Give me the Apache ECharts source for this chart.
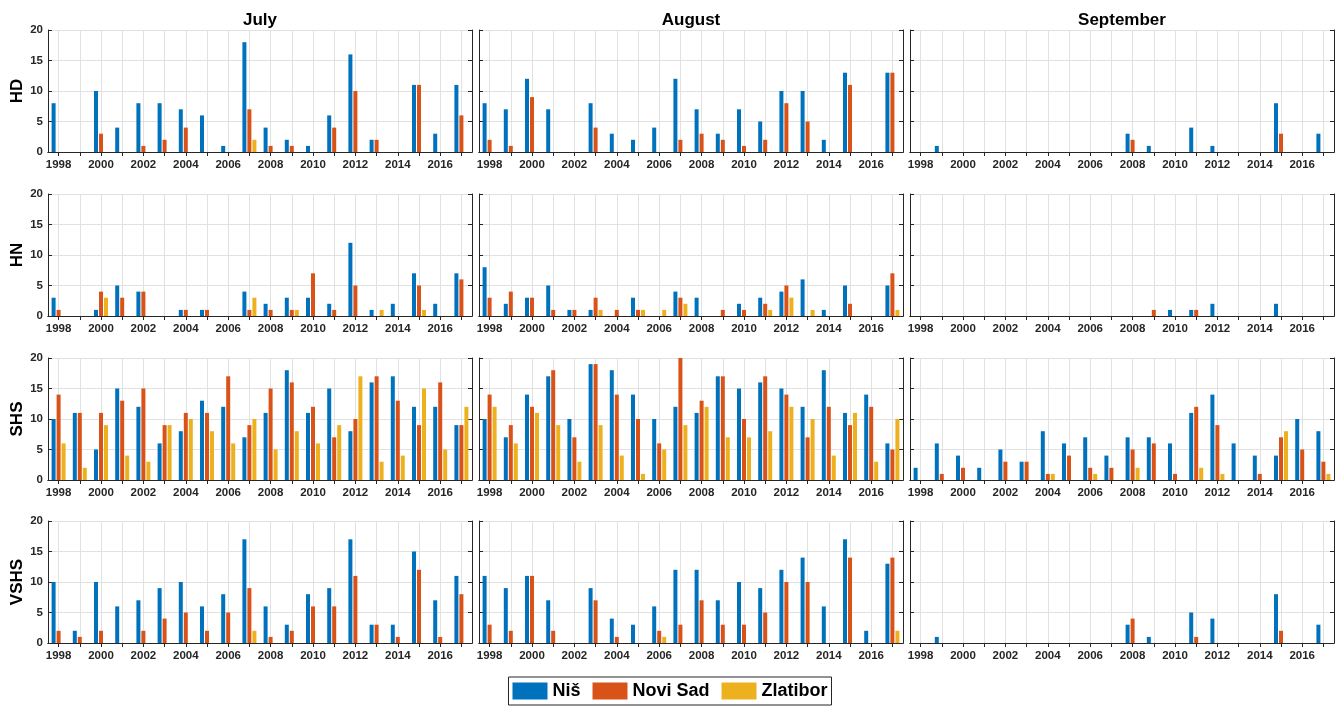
<!doctype html>
<html>
<head>
    <meta charset="utf-8">
    <title>HD / HN / SHS / VSHS</title>
    <script type="text/javascript" src="https://cdn.jsdelivr.net/npm/echarts@6/dist/echarts.min.js"></script>
    <style>
        html, body { margin: 0; padding: 0; background: #fff; }
        #container { width: 1340px; height: 707px; }
    </style>
</head>
<body>
<div id="container"></div>
<script type="text/javascript">
    // years on the x axis
    var years = ['1998', '1999', '2000', '2001', '2002', '2003', '2004', '2005', '2006', '2007',
        '2008', '2009', '2010', '2011', '2012', '2013', '2014', '2015', '2016', '2017'];
    var months = ['July', 'August', 'September'];
    var indices = ['HD', 'HN', 'SHS', 'VSHS'];
    var stations = ['Niš', 'Novi Sad', 'Zlatibor'];

    /* HD */
    var hdJulyNis      = [8, 0, 10, 4, 8, 8, 7, 6, 1, 18, 4, 2, 1, 6, 16, 2, 0, 11, 3, 11];
    var hdJulyNoviSad  = [0, 0, 3, 0, 1, 2, 4, 0, 0, 7, 1, 1, 0, 4, 10, 2, 0, 11, 0, 6];
    var hdJulyZlatibor = [0, 0, 0, 0, 0, 0, 0, 0, 0, 2, 0, 0, 0, 0, 0, 0, 0, 0, 0, 0];
    var hdAugNis       = [8, 7, 12, 7, 0, 8, 3, 2, 4, 12, 7, 3, 7, 5, 10, 10, 2, 13, 0, 13];
    var hdAugNoviSad   = [2, 1, 9, 0, 0, 4, 0, 0, 0, 2, 3, 2, 1, 2, 8, 5, 0, 11, 0, 13];
    var hdAugZlatibor  = [0, 0, 0, 0, 0, 0, 0, 0, 0, 0, 0, 0, 0, 0, 0, 0, 0, 0, 0, 0];
    var hdSepNis       = [0, 1, 0, 0, 0, 0, 0, 0, 0, 0, 3, 1, 0, 4, 1, 0, 0, 8, 0, 3];
    var hdSepNoviSad   = [0, 0, 0, 0, 0, 0, 0, 0, 0, 0, 2, 0, 0, 0, 0, 0, 0, 3, 0, 0];
    var hdSepZlatibor  = [0, 0, 0, 0, 0, 0, 0, 0, 0, 0, 0, 0, 0, 0, 0, 0, 0, 0, 0, 0];

    /* HN */
    var hnJulyNis      = [3, 0, 1, 5, 4, 0, 1, 1, 0, 4, 2, 3, 3, 2, 12, 1, 2, 7, 2, 7];
    var hnJulyNoviSad  = [1, 0, 4, 3, 4, 0, 1, 1, 0, 1, 1, 1, 7, 1, 5, 0, 0, 5, 0, 6];
    var hnJulyZlatibor = [0, 0, 3, 0, 0, 0, 0, 0, 0, 3, 0, 1, 0, 0, 0, 1, 0, 1, 0, 0];
    var hnAugNis       = [8, 2, 3, 5, 1, 1, 0, 3, 0, 4, 3, 0, 2, 3, 4, 6, 1, 5, 0, 5];
    var hnAugNoviSad   = [3, 4, 3, 1, 1, 3, 1, 1, 0, 3, 0, 1, 1, 2, 5, 0, 0, 2, 0, 7];
    var hnAugZlatibor  = [0, 0, 0, 0, 0, 1, 0, 1, 1, 2, 0, 0, 0, 1, 3, 1, 0, 0, 0, 1];
    var hnSepNis       = [0, 0, 0, 0, 0, 0, 0, 0, 0, 0, 0, 0, 1, 1, 2, 0, 0, 2, 0, 0];
    var hnSepNoviSad   = [0, 0, 0, 0, 0, 0, 0, 0, 0, 0, 0, 1, 0, 1, 0, 0, 0, 0, 0, 0];
    var hnSepZlatibor  = [0, 0, 0, 0, 0, 0, 0, 0, 0, 0, 0, 0, 0, 0, 0, 0, 0, 0, 0, 0];

    /* SHS */
    var shsJulyNis      = [10, 11, 5, 15, 12, 6, 8, 13, 12, 7, 11, 18, 11, 15, 8, 16, 17, 12, 12, 9];
    var shsJulyNoviSad  = [14, 11, 11, 13, 15, 9, 11, 11, 17, 9, 15, 16, 12, 7, 10, 17, 13, 9, 16, 9];
    var shsJulyZlatibor = [6, 2, 9, 4, 3, 9, 10, 8, 6, 10, 5, 8, 6, 9, 17, 3, 4, 15, 5, 12];
    var shsAugNis       = [10, 7, 14, 17, 10, 19, 18, 14, 10, 12, 11, 17, 15, 16, 15, 12, 18, 11, 14, 6];
    var shsAugNoviSad   = [14, 9, 12, 18, 7, 19, 14, 10, 6, 20, 13, 17, 10, 17, 14, 7, 12, 9, 12, 5];
    var shsAugZlatibor  = [12, 6, 11, 9, 3, 9, 4, 1, 5, 9, 12, 7, 7, 8, 12, 10, 4, 11, 3, 10];
    var shsSepNis       = [2, 6, 4, 2, 5, 3, 8, 6, 7, 4, 7, 7, 6, 11, 14, 6, 4, 4, 10, 8];
    var shsSepNoviSad   = [0, 1, 2, 0, 3, 3, 1, 4, 2, 2, 5, 6, 1, 12, 9, 0, 1, 7, 5, 3];
    var shsSepZlatibor  = [0, 0, 0, 0, 0, 0, 1, 0, 1, 0, 2, 0, 0, 2, 1, 0, 0, 8, 0, 1];

    /* VSHS */
    var vshsJulyNis      = [10, 2, 10, 6, 7, 9, 10, 6, 8, 17, 6, 3, 8, 9, 17, 3, 3, 15, 7, 11];
    var vshsJulyNoviSad  = [2, 1, 2, 0, 2, 4, 5, 2, 5, 9, 1, 2, 6, 6, 11, 3, 1, 12, 1, 8];
    var vshsJulyZlatibor = [0, 0, 0, 0, 0, 0, 0, 0, 0, 2, 0, 0, 0, 0, 0, 0, 0, 0, 0, 0];
    var vshsAugNis       = [11, 9, 11, 7, 0, 9, 4, 3, 6, 12, 12, 7, 10, 9, 12, 14, 6, 17, 2, 13];
    var vshsAugNoviSad   = [3, 2, 11, 2, 0, 7, 1, 0, 2, 3, 7, 3, 3, 5, 10, 10, 0, 14, 0, 14];
    var vshsAugZlatibor  = [0, 0, 0, 0, 0, 0, 0, 0, 1, 0, 0, 0, 0, 0, 0, 0, 0, 0, 0, 2];
    var vshsSepNis       = [0, 1, 0, 0, 0, 0, 0, 0, 0, 0, 3, 1, 0, 5, 4, 0, 0, 8, 0, 3];
    var vshsSepNoviSad   = [0, 0, 0, 0, 0, 0, 0, 0, 0, 0, 4, 0, 0, 1, 0, 0, 0, 2, 0, 0];
    var vshsSepZlatibor  = [0, 0, 0, 0, 0, 0, 0, 0, 0, 0, 0, 0, 0, 0, 0, 0, 0, 0, 0, 0];

    // rows = index, columns = month, each cell = [Niš, Novi Sad, Zlatibor]
    var panels = [
        [[hdJulyNis, hdJulyNoviSad, hdJulyZlatibor], [hdAugNis, hdAugNoviSad, hdAugZlatibor], [hdSepNis, hdSepNoviSad, hdSepZlatibor]],
        [[hnJulyNis, hnJulyNoviSad, hnJulyZlatibor], [hnAugNis, hnAugNoviSad, hnAugZlatibor], [hnSepNis, hnSepNoviSad, hnSepZlatibor]],
        [[shsJulyNis, shsJulyNoviSad, shsJulyZlatibor], [shsAugNis, shsAugNoviSad, shsAugZlatibor], [shsSepNis, shsSepNoviSad, shsSepZlatibor]],
        [[vshsJulyNis, vshsJulyNoviSad, vshsJulyZlatibor], [vshsAugNis, vshsAugNoviSad, vshsAugZlatibor], [vshsSepNis, vshsSepNoviSad, vshsSepZlatibor]]
    ];

    var colors = ['#0072BD', '#D95319', '#EDB120'];
    var font = "'Liberation Sans', Arial, sans-serif";
    var ink = '#262626';
    var gridColor = '#e1e1e1';

    var colLeft = [48, 479, 910];
    var colWidth = 424;
    var rowTop = [30, 194, 358, 521];
    var rowHeight = 122;

    // half-year slots for the top axis, so its ticks/grid sit on the year centres
    var halfSlots = [];
    for (var h = 0; h <= years.length * 2; h++) halfSlots.push('s' + h);
    var onYear = function (i) { return i % 2 === 1; };

    var grids = [], xAxes = [], yAxes = [], series = [];

    for (var r = 0; r < indices.length; r++) {
        for (var c = 0; c < months.length; c++) {
            var p = grids.length;
            grids.push({left: colLeft[c], top: rowTop[r], width: colWidth, height: rowHeight});

            // bottom axis with year labels
            xAxes.push({
                type: 'category', gridIndex: p, data: years, position: 'bottom',
                axisLine: {lineStyle: {color: ink, width: 1}},
                axisTick: {inside: true, alignWithLabel: true, interval: 0, length: 4, lineStyle: {color: ink}},
                axisLabel: {interval: 1, margin: 7, color: ink, fontWeight: 'bold', fontSize: 11.5, fontFamily: font},
                splitLine: {show: false}
            });
            // top axis: box edge, ticks and vertical grid, month title on first row
            xAxes.push({
                type: 'category', gridIndex: p, data: halfSlots, position: 'top', boundaryGap: false,
                name: r === 0 ? months[c] : '', nameLocation: 'middle', nameGap: 1,
                nameTextStyle: {color: '#000', fontWeight: 'bold', fontSize: 17, fontFamily: font},
                axisLine: {lineStyle: {color: ink, width: 1}},
                axisTick: {inside: true, interval: onYear, length: 4, lineStyle: {color: ink}},
                axisLabel: {show: false},
                splitLine: {show: true, interval: onYear, lineStyle: {color: gridColor}}
            });
            yAxes.push({
                type: 'value', gridIndex: p, min: 0, max: 20, interval: 5, position: 'left',
                name: c === 0 ? indices[r] : '', nameLocation: 'middle', nameGap: 21, nameRotate: 90,
                nameTextStyle: {color: '#000', fontWeight: 'bold', fontSize: 17, fontFamily: font},
                axisLine: {show: true, lineStyle: {color: ink, width: 1}},
                axisTick: {show: true, inside: true, length: 4, lineStyle: {color: ink}},
                axisLabel: {show: c === 0, margin: 5, color: ink, fontWeight: 'bold', fontSize: 11.5, fontFamily: font},
                splitLine: {show: true, lineStyle: {color: gridColor}}
            });
            yAxes.push({
                type: 'value', gridIndex: p, min: 0, max: 20, interval: 5, position: 'right',
                axisLine: {show: true, lineStyle: {color: ink, width: 1}},
                axisTick: {show: true, inside: true, length: 4, lineStyle: {color: ink}},
                axisLabel: {show: false},
                splitLine: {show: false}
            });

            for (var s = 0; s < stations.length; s++) {
                series.push({
                    name: stations[s],
                    type: 'bar',
                    xAxisIndex: 2 * p,
                    yAxisIndex: 2 * p,
                    data: panels[r][c][s],
                    barWidth: 4,
                    barGap: '25%',
                    itemStyle: {color: colors[s]},
                    silent: true
                });
            }
        }
    }

    var dom = document.getElementById("container");
    var myChart = echarts.init(dom);
    var option = {
        animation: false,
        backgroundColor: '#fff',
        color: colors,
        textStyle: {fontFamily: font},
        legend: {
            data: stations,
            left: 'center',
            top: 677,
            icon: 'rect',
            itemWidth: 35,
            itemHeight: 17,
            itemGap: 12,
            padding: [5, 4, 5, 4],
            borderColor: ink,
            borderWidth: 1,
            textStyle: {color: '#000', fontWeight: 'bold', fontSize: 18, fontFamily: font}
        },
        grid: grids,
        xAxis: xAxes,
        yAxis: yAxes,
        series: series
    };
    myChart.setOption(option, true);
</script>
</body>
</html>
